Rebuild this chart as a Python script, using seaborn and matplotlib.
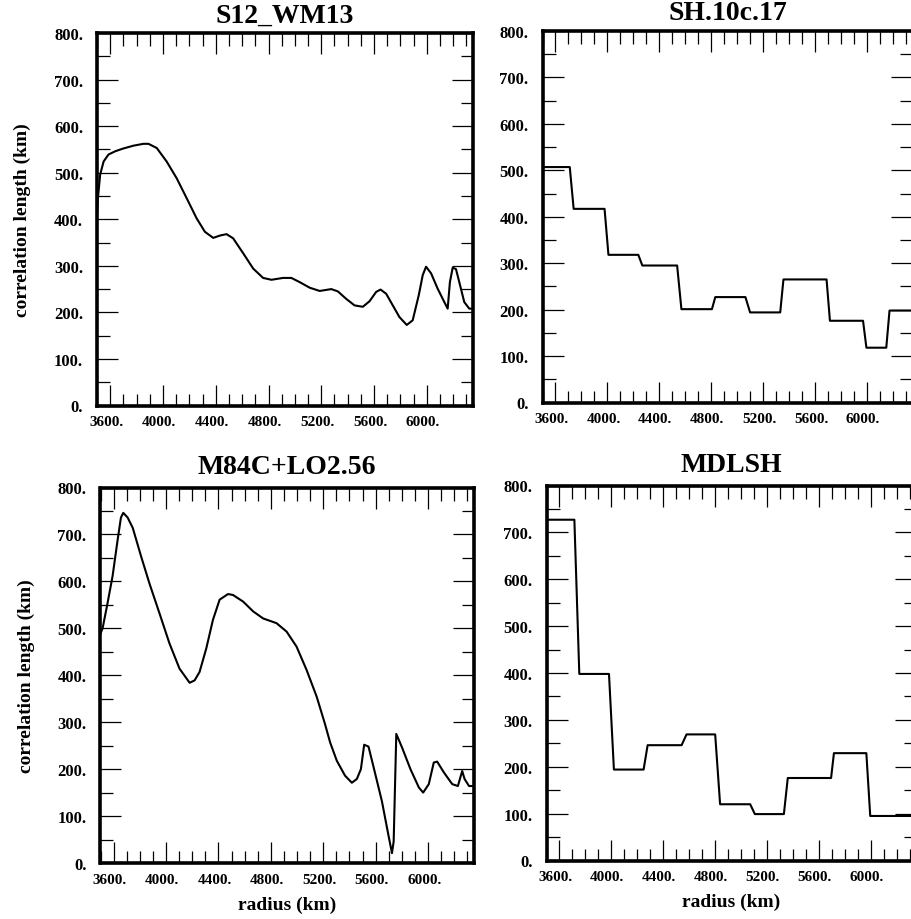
import matplotlib
matplotlib.use("Agg")
import matplotlib.pyplot as plt
import matplotlib.transforms as mtransforms
from matplotlib.ticker import FixedLocator, FixedFormatter, MultipleLocator
import pandas as pd
import seaborn as sns

# ---- correlation length profiles (radius in km, correlation length in km) ----
s12_radius = [3500, 3507, 3524, 3550, 3587, 3638, 3700, 3776, 3852, 3890, 3953,
              4028, 4104, 4180, 4255, 4318, 4381, 4432, 4482, 4532, 4608, 4684,
              4759, 4822, 4910, 4973, 5036, 5112, 5188, 5276, 5326, 5389, 5452,
              5515, 5566, 5616, 5649, 5692, 5742, 5792, 5848, 5893, 5939, 5969,
              5994, 6032, 6082, 6133, 6158, 6175, 6196, 6221, 6246, 6284, 6322,
              6350]
s12_length = [410, 445, 496, 524, 539, 546, 552, 558, 562, 562, 553,
              524, 488, 445, 402, 373, 360, 365, 368, 359, 327, 294,
              274, 270, 274, 274, 265, 253, 246, 250, 245, 229, 215,
              212, 224, 244, 249, 240, 215, 190, 173, 183, 237, 280,
              298, 284, 251, 222, 208, 265, 296, 293, 265, 222, 208,
              208]

sh_radius = [3500, 3710, 3740, 3978, 4008, 4238, 4269, 4537, 4570, 4805, 4831,
             5063, 5099, 5331, 5356, 5688, 5714, 5969, 5995, 6148, 6173, 6350]
sh_length = [507, 507, 417, 417, 318, 318, 295, 295, 201, 201, 227,
             227, 194, 194, 265, 265, 176, 176, 118, 118, 198, 198]

m84_radius = [3490, 3516, 3554, 3592, 3631, 3656, 3674, 3707, 3746, 3809, 3873,
              3950, 4026, 4103, 4180, 4218, 4256, 4307, 4358, 4409, 4473, 4511,
              4588, 4665, 4741, 4843, 4920, 4996, 5073, 5150, 5213, 5252, 5303,
              5366, 5418, 5456, 5487, 5512, 5545, 5584, 5647, 5691, 5724, 5737,
              5757, 5801, 5865, 5929, 5962, 6005, 6043, 6069, 6120, 6184, 6227,
              6260, 6278, 6312, 6355]
m84_length = [482, 500, 554, 611, 689, 736, 746, 736, 714, 654, 596,
              532, 468, 414, 384, 389, 407, 457, 518, 561, 573, 571,
              557, 536, 521, 511, 493, 461, 411, 354, 296, 257, 218,
              186, 171, 179, 200, 252, 248, 204, 132, 68, 21, 46,
              275, 246, 200, 161, 150, 168, 214, 216, 193, 168, 164,
              196, 179, 164, 164]

mdlsh_radius = [3500, 3715, 3753, 3982, 4020, 4249, 4280, 4542, 4580, 4801,
                4839, 5071, 5107, 5331, 5361, 5695, 5717, 5967, 5997, 6350]
mdlsh_length = [727, 727, 398, 398, 194, 194, 246, 246, 269, 269,
                120, 120, 99, 99, 176, 176, 229, 229, 95, 95]

model_names = ["S12_WM13", "SH.10c.17", "M84C+LO2.56", "MDLSH"]

x_tick_values = [3600, 4000, 4400, 4800, 5200, 5600, 6000]
x_tick_labels = ["3600.", "4000.", "4400.", "4800.", "5200.", "5600.", "6000."]
y_tick_values = [0, 100, 200, 300, 400, 500, 600, 700, 800]
y_tick_labels = ["0.", "100.", "200.", "300.", "400.", "500.", "600.", "700.", "800."]

# ---- style ----
sns.set_theme(style="ticks")
plt.rcParams["font.family"] = ["Liberation Serif", "DejaVu Serif"]
plt.rcParams["font.weight"] = "bold"
plt.rcParams["axes.edgecolor"] = "black"
plt.rcParams["axes.labelcolor"] = "black"
plt.rcParams["xtick.color"] = "black"
plt.rcParams["ytick.color"] = "black"
plt.rcParams["xtick.labelcolor"] = "black"
plt.rcParams["ytick.labelcolor"] = "black"
plt.rcParams["text.color"] = "black"

W, H = 912, 920
fig = plt.figure(figsize=(W / 100, H / 100), dpi=100)
fig.patch.set_facecolor("white")


def add_panel(left, right, top, bottom):
    return fig.add_axes([left / W, 1 - bottom / H, (right - left) / W, (bottom - top) / H])


# panel frames in pixels: left, right, top, bottom
frames = [(97, 473, 34, 406.5), (542.5, 912.5, 32, 403.5),
          (100.5, 474, 488.5, 864), (546.5, 916, 486.5, 861.5)]
profiles = [(s12_radius, s12_length), (sh_radius, sh_length),
            (m84_radius, m84_length), (mdlsh_radius, mdlsh_length)]
title_y = [1.048, 1.051, 1.055, 1.057]

for i, (frame, (rad, corr), name) in enumerate(zip(frames, profiles, model_names)):
    ax = add_panel(*frame)
    df = pd.DataFrame({"radius": rad, "length": corr})
    sns.lineplot(data=df, x="radius", y="length", ax=ax, color="black",
                 linewidth=1.5, sort=False, estimator=None)

    ax.set_xlim(3500, 6350)
    ax.set_ylim(0, 800)
    ax.xaxis.set_major_locator(FixedLocator(x_tick_values))
    ax.xaxis.set_major_formatter(FixedFormatter(x_tick_labels))
    ax.xaxis.set_minor_locator(MultipleLocator(100))
    ax.yaxis.set_major_locator(FixedLocator(y_tick_values))
    ax.yaxis.set_major_formatter(FixedFormatter(y_tick_labels))
    ax.yaxis.set_minor_locator(MultipleLocator(50))

    ax.tick_params(which="both", direction="in", top=True, right=True,
                   width=0.9, color="black")
    ax.tick_params(which="major", length=15)
    ax.tick_params(which="minor", length=9)
    ax.tick_params(axis="x", which="major", labelsize=11, pad=7)
    ax.tick_params(axis="y", which="major", labelsize=12, pad=10)

    for sp in ax.spines.values():
        sp.set_linewidth(2.6)
        sp.set_color("black")
        sp.set_zorder(5)

    # shift the x tick labels slightly left of their ticks
    shift = mtransforms.ScaledTranslation(-4 / 100, 0, fig.dpi_scale_trans)
    for lab in ax.get_xticklabels():
        lab.set_transform(lab.get_transform() + shift)

    ax.set_title(name, fontsize=20, fontweight="bold", y=title_y[i], pad=0,
                 va="center")

    if i % 2 == 0:
        ax.set_ylabel("correlation length (km)", fontsize=14, fontweight="bold")
        ax.yaxis.set_label_coords(-0.198, 0.5)
        ax.yaxis.label.set_va("center")
    else:
        ax.set_ylabel("")
    if i >= 2:
        ax.set_xlabel("radius (km)", fontsize=14, fontweight="bold")
        ax.xaxis.set_label_coords(0.5, -0.11)
        ax.xaxis.label.set_va("center")
    else:
        ax.set_xlabel("")

fig.savefig("out.png", dpi=100, facecolor="white")
